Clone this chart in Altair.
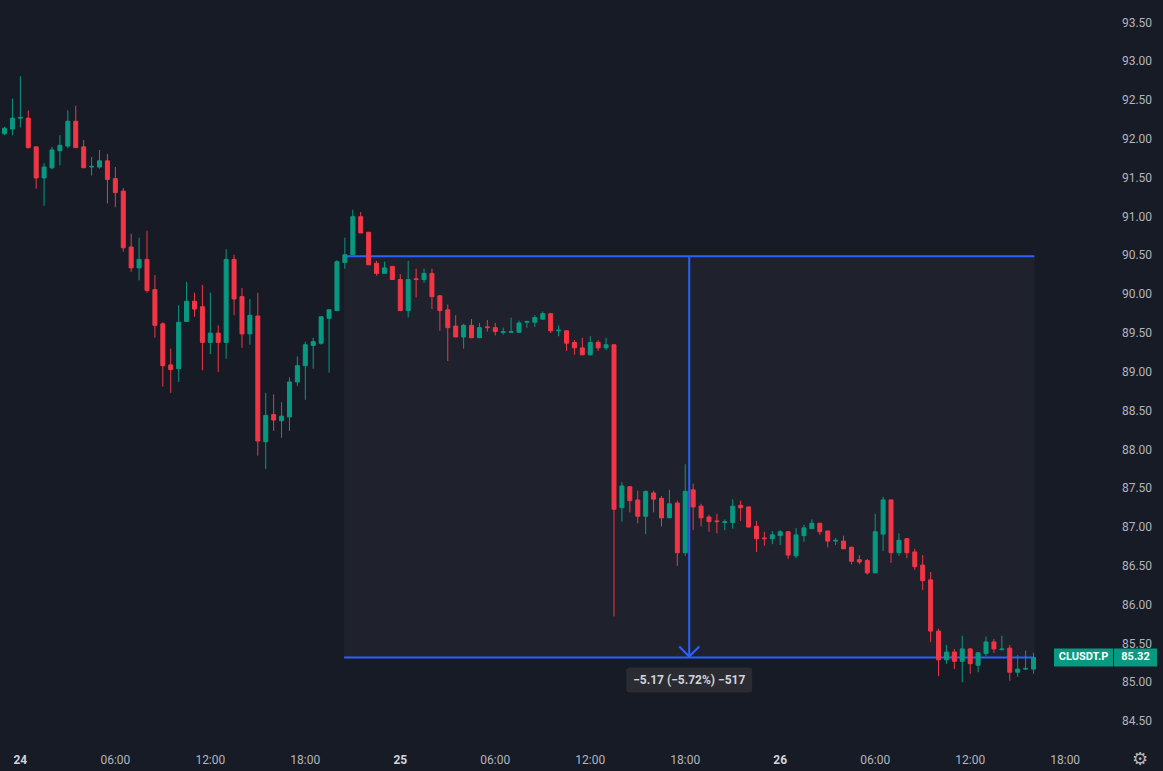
import altair as alt
import pandas as pd
import numpy as np

# ---- 30-minute candles, CLUSDT.P (bar 0 = 23:00 on the 23rd) ----
opens = [92.07, 92.13, 92.27, 92.27, 91.90, 91.50, 91.63, 91.85, 91.91, 92.23,
         91.90, 91.64, 91.64, 91.72, 91.49, 91.33, 90.61, 90.34, 90.45, 90.06,
         89.62, 89.09, 89.04, 89.65, 89.91, 89.84, 89.38, 89.50, 89.38, 90.45,
         89.97, 89.49, 89.72, 88.10, 88.45, 88.37, 88.42, 88.87, 89.08, 89.34,
         89.37, 89.69, 89.79, 90.41, 90.51, 91.00, 90.80, 90.40, 90.27, 90.36,
         90.19, 89.79, 90.20, 90.19, 90.27, 89.98, 89.80, 89.59, 89.45, 89.60,
         89.44, 89.58, 89.57, 89.51, 89.51, 89.51, 89.64, 89.64, 89.68, 89.75,
         89.53, 89.53, 89.38, 89.31, 89.22, 89.38, 89.31, 89.35, 87.25, 87.52,
         87.35, 87.14, 87.44, 87.37, 87.12, 87.31, 86.67, 87.48, 87.27, 87.13,
         87.08, 87.06, 87.06, 87.28, 87.26, 87.01, 86.86, 86.85, 86.89, 86.94,
         86.63, 86.89, 86.98, 87.05, 86.95, 86.82, 86.82, 86.74, 86.58, 86.57,
         86.41, 86.91, 87.35, 86.67, 86.85, 86.68, 86.51, 86.32, 85.66, 85.29,
         85.39, 85.27, 85.43, 85.22, 85.37, 85.52, 85.42, 85.44, 85.13, 85.17,
         85.17]
highs = [92.16, 92.52, 92.81, 92.37, 91.90, 91.69, 91.90, 92.05, 92.37, 92.43,
         91.99, 91.77, 91.86, 91.81, 91.64, 91.37, 90.78, 90.73, 90.82, 90.25,
         89.64, 89.30, 89.86, 90.16, 90.02, 90.12, 90.02, 89.60, 90.58, 90.51,
         90.08, 89.94, 90.02, 88.73, 88.71, 88.61, 88.93, 89.20, 89.39, 89.44,
         89.72, 89.81, 90.44, 90.73, 91.09, 91.06, 90.80, 90.43, 90.42, 90.36,
         90.26, 90.43, 90.33, 90.33, 90.33, 89.99, 89.87, 89.73, 89.62, 89.68,
         89.63, 89.67, 89.63, 89.57, 89.70, 89.66, 89.66, 89.73, 89.78, 89.76,
         89.60, 89.54, 89.41, 89.44, 89.46, 89.41, 89.44, 89.35, 87.58, 87.53,
         87.47, 87.47, 87.47, 87.40, 87.48, 87.34, 87.81, 87.56, 87.30, 87.16,
         87.17, 87.10, 87.36, 87.34, 87.26, 87.08, 86.94, 86.95, 86.96, 86.95,
         86.99, 87.03, 87.10, 87.05, 86.95, 86.86, 86.89, 86.75, 86.64, 86.59,
         87.17, 87.39, 87.35, 86.92, 86.86, 86.72, 86.64, 86.42, 85.69, 85.48,
         85.43, 85.60, 85.44, 85.39, 85.59, 85.56, 85.60, 85.48, 85.35, 85.41,
         85.38]
lows = [92.05, 92.05, 92.15, 91.88, 91.36, 91.14, 91.61, 91.66, 91.88, 91.89,
        91.63, 91.53, 91.62, 91.17, 91.12, 90.55, 90.29, 90.18, 90.02, 89.44,
        88.81, 88.73, 88.87, 89.65, 89.71, 89.02, 89.23, 89.00, 89.17, 89.73,
        89.31, 89.35, 87.92, 87.75, 88.24, 88.15, 88.24, 88.82, 88.64, 89.04,
        89.35, 88.99, 89.79, 90.33, 90.51, 90.79, 90.38, 90.24, 90.27, 90.19,
        89.79, 89.70, 89.96, 90.15, 89.81, 89.53, 89.14, 89.45, 89.30, 89.44,
        89.44, 89.52, 89.47, 89.48, 89.51, 89.51, 89.57, 89.58, 89.67, 89.50,
        89.46, 89.27, 89.22, 89.22, 89.21, 89.27, 89.28, 85.85, 87.07, 87.19,
        87.05, 86.91, 87.19, 87.01, 87.12, 86.50, 86.63, 86.96, 87.01, 86.94,
        86.92, 86.96, 86.98, 87.08, 87.00, 86.68, 86.76, 86.78, 86.77, 86.59,
        86.60, 86.81, 86.98, 86.90, 86.74, 86.77, 86.72, 86.52, 86.52, 86.39,
        86.41, 86.69, 86.54, 86.63, 86.60, 86.45, 86.19, 85.52, 85.08, 85.24,
        85.17, 85.00, 85.11, 85.13, 85.34, 85.38, 85.42, 85.02, 85.07, 85.16,
        85.11]
closes = [92.14, 92.27, 92.28, 91.89, 91.50, 91.64, 91.86, 91.92, 92.23, 91.89,
          91.63, 91.65, 91.72, 91.48, 91.31, 90.60, 90.34, 90.45, 90.05, 89.60,
          89.08, 89.03, 89.64, 89.91, 89.81, 89.38, 89.50, 89.38, 90.45, 89.94,
          89.49, 89.73, 88.11, 88.44, 88.38, 88.43, 88.87, 89.08, 89.35, 89.39,
          89.71, 89.80, 90.42, 90.51, 91.00, 90.79, 90.38, 90.27, 90.34, 90.19,
          89.79, 90.19, 90.19, 90.27, 89.97, 89.79, 89.57, 89.45, 89.60, 89.44,
          89.57, 89.57, 89.52, 89.52, 89.52, 89.63, 89.65, 89.70, 89.75, 89.53,
          89.54, 89.37, 89.31, 89.22, 89.38, 89.31, 89.35, 87.23, 87.53, 87.34,
          87.14, 87.46, 87.36, 87.12, 87.30, 86.67, 87.46, 87.26, 87.12, 87.07,
          87.07, 87.07, 87.27, 87.25, 87.00, 86.85, 86.85, 86.90, 86.94, 86.64,
          86.90, 86.99, 87.05, 86.94, 86.82, 86.83, 86.72, 86.56, 86.55, 86.41,
          86.94, 87.35, 86.67, 86.83, 86.67, 86.49, 86.31, 85.66, 85.29, 85.39,
          85.27, 85.43, 85.24, 85.38, 85.52, 85.43, 85.43, 85.13, 85.17, 85.18,
          85.32]

# time-axis labels (bar index where each label sits)
day_labels = ["24", "25", "26"]
day_label_bars = [2, 50, 98]
hour_labels = ["06:00", "12:00", "18:00", "06:00", "12:00", "18:00", "06:00", "12:00", "18:00"]
hour_label_bars = [14, 26, 38, 62, 74, 86, 110, 122, 134]

# price-axis labels
price_ticks = [93.5, 93.0, 92.5, 92.0, 91.5, 91.0, 90.5, 90.0, 89.5, 89.0,
               88.5, 88.0, 87.5, 87.0, 86.5, 86.0, 85.5, 85.0, 84.5]

# price-range drawing
range_start_bar = 42.90
range_end_bar = 130.11
range_top = 90.49
range_bottom = 85.32
range_label = "\u22125.17 (\u22125.72%) \u2212517"
symbol = "CLUSDT.P"
last_price = 85.32

BG = "#171b26"
UP = "#089981"
DOWN = "#f23645"
BLUE = "#2962ff"
TXT = "#b2b5be"
FONT = "Roboto"

xs = alt.Scale(domain=[0.0606, 145.7276], nice=False, zero=False)
ys = alt.Scale(domain=[83.857, 93.7925], nice=False, zero=False)

df = pd.DataFrame({"bar": list(range(len(opens))), "open": opens, "high": highs,
                   "low": lows, "close": closes})
df["dir"] = np.where(df["close"] >= df["open"], "up", "down")
cscale = alt.Scale(domain=["up", "down"], range=[UP, DOWN])

rng = pd.DataFrame({"x1": [range_start_bar], "x2": [range_end_bar],
                    "xm": [(range_start_bar + range_end_bar) / 2],
                    "top": [range_top], "bot": [range_bottom], "label": [range_label]})

shade = alt.Chart(rng).mark_rect(color="#1f222d").encode(
    x=alt.X("x1:Q", scale=xs, axis=None), x2="x2:Q",
    y=alt.Y("top:Q", scale=ys, axis=None), y2="bot:Q")

hline_top = alt.Chart(rng).mark_rule(color=BLUE, strokeWidth=2).encode(
    x=alt.X("x1:Q", scale=xs, axis=None), x2="x2:Q",
    y=alt.Y("top:Q", scale=ys, axis=None))
hline_bot = alt.Chart(rng).mark_rule(color=BLUE, strokeWidth=2).encode(
    x=alt.X("x1:Q", scale=xs, axis=None), x2="x2:Q",
    y=alt.Y("bot:Q", scale=ys, axis=None))
vline = alt.Chart(rng).mark_rule(color=BLUE, strokeWidth=2).encode(
    x=alt.X("xm:Q", scale=xs, axis=None),
    y=alt.Y("top:Q", scale=ys, axis=None), y2="bot:Q")
arrow = alt.Chart(rng).mark_point(shape="M -1 -1 L 0 0 L 1 -1", size=400, filled=False,
                                  color=BLUE, strokeWidth=2, opacity=1, yOffset=-1).encode(
    x=alt.X("xm:Q", scale=xs, axis=None), y=alt.Y("bot:Q", scale=ys, axis=None))

wicks = alt.Chart(df).mark_rule(strokeWidth=1).encode(
    x=alt.X("bar:Q", scale=xs, axis=None),
    y=alt.Y("low:Q", scale=ys, axis=None), y2="high:Q",
    color=alt.Color("dir:N", scale=cscale, legend=None))
bodies = alt.Chart(df).mark_bar(size=4, strokeWidth=1).encode(
    x=alt.X("bar:Q", scale=xs, axis=None),
    y=alt.Y("open:Q", scale=ys, axis=None), y2="close:Q",
    color=alt.Color("dir:N", scale=cscale, legend=None),
    stroke=alt.Stroke("dir:N", scale=cscale, legend=None))

box = alt.Chart(rng).mark_rect(color="#2b2c32", cornerRadius=3, xOffset=-63, x2Offset=63,
                               yOffset=10, y2Offset=35).encode(
    x=alt.X("xm:Q", scale=xs, axis=None), x2="xm:Q",
    y=alt.Y("bot:Q", scale=ys, axis=None), y2="bot:Q")
box_text = alt.Chart(rng).mark_text(font=FONT, fontSize=12, fontWeight="bold", color="#d1d4dc",
                                    dy=23, baseline="middle").encode(
    x=alt.X("xm:Q", scale=xs, axis=None), y=alt.Y("bot:Q", scale=ys, axis=None),
    text="label:N")

pt = pd.DataFrame({"p": price_ticks, "t": [f"{v:.2f}" for v in price_ticks]})
price_axis = alt.Chart(pt).mark_text(font=FONT, fontSize=12, color=TXT, align="center",
                                     baseline="middle").encode(
    x=alt.value(1137), y=alt.Y("p:Q", scale=ys, axis=None), text="t:N")

dl = pd.DataFrame({"b": day_label_bars, "t": day_labels})
hl = pd.DataFrame({"b": hour_label_bars, "t": hour_labels})
day_axis = alt.Chart(dl).mark_text(font=FONT, fontSize=12, fontWeight="bold", color="#d1d4dc",
                                   baseline="middle").encode(
    x=alt.X("b:Q", scale=xs, axis=None), y=alt.value(760), text="t:N")
hour_axis = alt.Chart(hl).mark_text(font=FONT, fontSize=12, color=TXT,
                                    baseline="middle").encode(
    x=alt.X("b:Q", scale=xs, axis=None), y=alt.value(760), text="t:N")

lp = pd.DataFrame({"p": [last_price], "s": [symbol], "v": [f"{last_price:.2f}"]})
tag1 = alt.Chart(lp).mark_rect(color=UP, yOffset=-9, y2Offset=9).encode(
    x=alt.value(1054), x2=alt.value(1113),
    y=alt.Y("p:Q", scale=ys, axis=None), y2="p:Q")
tag2 = alt.Chart(lp).mark_rect(color=UP, yOffset=-9, y2Offset=9).encode(
    x=alt.value(1114), x2=alt.value(1157),
    y=alt.Y("p:Q", scale=ys, axis=None), y2="p:Q")
tag1_text = alt.Chart(lp).mark_text(font=FONT, fontSize=11, fontWeight="bold", color="#ffffff",
                                    baseline="middle").encode(
    x=alt.value(1083.5), y=alt.Y("p:Q", scale=ys, axis=None), text="s:N")
tag2_text = alt.Chart(lp).mark_text(font=FONT, fontSize=11, fontWeight="bold", color="#ffffff",
                                    baseline="middle").encode(
    x=alt.value(1135.5), y=alt.Y("p:Q", scale=ys, axis=None), text="v:N")

gear = alt.Chart(pd.DataFrame({"g": ["\u2699"]})).mark_text(
    font="DejaVu Sans", fontSize=18, color=TXT, baseline="middle").encode(
    x=alt.value(1140), y=alt.value(760), text="g:N")

chart = alt.layer(
    shade, hline_top, hline_bot, vline, arrow, wicks, bodies, box, box_text,
    price_axis, day_axis, hour_axis, tag1, tag2, tag1_text, tag2_text, gear
).properties(
    width=1163, height=771, padding=0, background=BG,
    autosize=alt.AutoSizeParams(type="none")
).configure_view(stroke=None)

chart.save("out.html", embed_options={"renderer": "svg", "actions": False})
